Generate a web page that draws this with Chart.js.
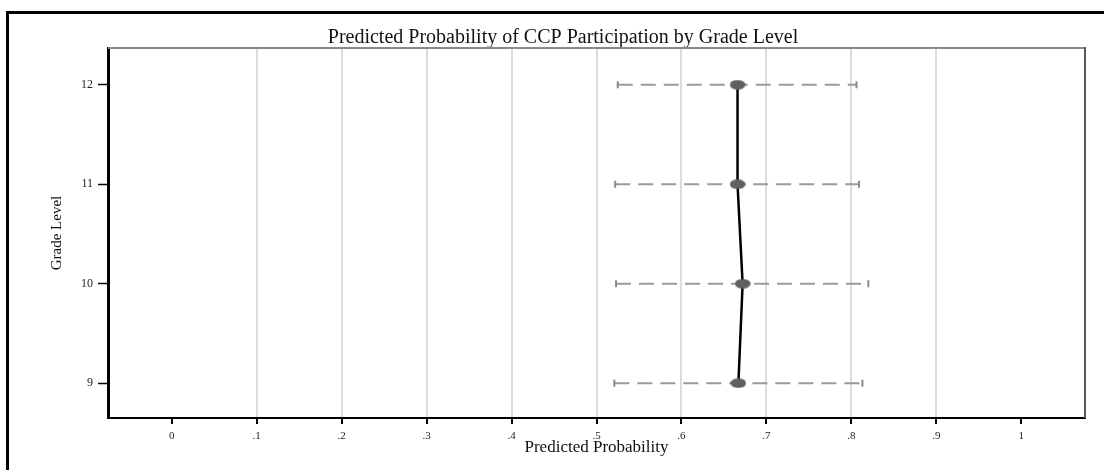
<!DOCTYPE html>
<html>
<head>
	<meta charset="UTF-8">
	<title>Predicted Probability of CCP Participation by Grade Level</title>
	<script src="https://cdn.jsdelivr.net/npm/chart.js"></script>
	<style>
		body {
			margin: 0;
			padding: 0;
			background: #fff;
		}

		.wrap {
			position: relative;
			width: 1104px;
			height: 470px;
			overflow: hidden;
		}

		/* outer frame of the figure */
		.frame {
			position: absolute;
			left: 6px;
			top: 11px;
			right: -10px;
			bottom: -10px;
			border-left: 3px solid #000;
			border-top: 3px solid #000;
		}

		canvas {
			position: absolute;
			left: 0;
			top: 0;
		}
	</style>
</head>
<body>
	<div class="wrap">
		<div class="frame"></div>
		<canvas id="chart" width="1104" height="470"></canvas>
	</div>

	<script>
		// data
		var grades = [9, 10, 11, 12];
		var predicted = [0.667, 0.672, 0.666, 0.666];
		var ciLower = [0.521, 0.523, 0.522, 0.525];
		var ciUpper = [0.813, 0.820, 0.809, 0.806];

		var xTickValues = [0, 0.1, 0.2, 0.3, 0.4, 0.5, 0.6, 0.7, 0.8, 0.9, 1];
		var xTickLabels = ['0', '.1', '.2', '.3', '.4', '.5', '.6', '.7', '.8', '.9', '1'];
		var yTickValues = [9, 10, 11, 12];
		var yTickLabels = ['9', '10', '11', '12'];

		// ellipse marker (the original is stretched sideways)
		function ellipseMarker() {
			var c = document.createElement('canvas');
			c.width = 16;
			c.height = 10;
			var g = c.getContext('2d');
			g.fillStyle = '#606060';
			g.beginPath();
			g.ellipse(8, 5, 7.8, 4.8, 0, 0, Math.PI * 2);
			g.fill();
			return c;
		}

		var datasets = [{
			label: 'Predicted',
			data: grades.map(function (g, i) { return { x: predicted[i], y: g }; }),
			showLine: true,
			borderColor: '#000',
			borderWidth: 2.5,
			pointStyle: ellipseMarker(),
			pointRadius: 8
		}];

		grades.forEach(function (g, i) {
			datasets.push({
				label: 'CI ' + g,
				data: [{ x: ciLower[i], y: g }, { x: ciUpper[i], y: g }],
				showLine: true,
				borderColor: '#9a9a9a',
				borderWidth: 2,
				borderDash: [15, 8],
				pointStyle: 'line',
				rotation: 90,
				pointRadius: 3.5,
				pointBorderColor: '#8a8a8a',
				pointBorderWidth: 2
			});
		});

		// top and right edges of the plot region
		var plotBox = {
			id: 'plotBox',
			afterDraw: function (chart) {
				var a = chart.chartArea;
				var ctx = chart.ctx;
				ctx.save();
				ctx.lineWidth = 2;
				ctx.strokeStyle = '#8a8a8a';
				ctx.beginPath();
				ctx.moveTo(a.left, a.top);
				ctx.lineTo(a.right, a.top);
				ctx.stroke();
				ctx.strokeStyle = '#555';
				ctx.beginPath();
				ctx.moveTo(a.right, a.top - 1);
				ctx.lineTo(a.right, a.bottom);
				ctx.stroke();
				ctx.restore();
			}
		};

		new Chart(document.getElementById('chart'), {
			type: 'scatter',
			data: { datasets: datasets },
			options: {
				responsive: false,
				animation: false,
				layout: {
					padding: { left: 41, right: 19, top: 28, bottom: 14 }
				},
				plugins: {
					legend: { display: false },
					tooltip: { enabled: false },
					title: {
						display: true,
						text: 'Predicted Probability of CCP Participation by Grade Level',
						color: '#111',
						font: { family: 'Liberation Serif', size: 20, weight: 'normal', lineHeight: 1 },
						padding: { top: 0, bottom: 0 }
					}
				},
				scales: {
					x: {
						type: 'linear',
						min: -0.075,
						max: 1.075,
						afterBuildTicks: function (s) {
							s.ticks = xTickValues.map(function (v) { return { value: v }; });
						},
						ticks: {
							callback: function (v, i) { return xTickLabels[i]; },
							color: '#222',
							font: { family: 'Liberation Serif', size: 11, lineHeight: 1 },
							padding: 7,
							maxRotation: 0
						},
						grid: {
							color: function (c) {
								var v = c.tick ? c.tick.value : null;
								return (v === 0 || v === 1) ? 'rgba(0,0,0,0)' : '#dcdcdc';
							},
							lineWidth: 2,
							tickColor: '#000',
							tickWidth: 2,
							tickLength: 6
						},
						border: { color: '#000', width: 2 },
						title: {
							display: true,
							text: 'Predicted Probability',
							color: '#111',
							font: { family: 'Liberation Serif', size: 17, lineHeight: 1 },
							padding: { top: -10, bottom: 0 }
						}
					},
					y: {
						type: 'linear',
						min: 8.65,
						max: 12.37,
						afterBuildTicks: function (s) {
							s.ticks = yTickValues.map(function (v) { return { value: v }; });
						},
						afterFit: function (s) {
							s.width = 67;
						},
						ticks: {
							callback: function (v, i) { return yTickLabels[i]; },
							color: '#222',
							font: { family: 'Liberation Serif', size: 12 },
							padding: 5
						},
						grid: {
							drawOnChartArea: false,
							tickColor: '#000',
							tickWidth: 1.5,
							tickLength: 10
						},
						border: { color: '#000', width: 3 },
						title: {
							display: true,
							text: 'Grade Level',
							color: '#111',
							font: { family: 'Liberation Serif', size: 15, lineHeight: 1.2 },
							padding: { top: 7, bottom: 0 }
						}
					}
				}
			},
			plugins: [plotBox]
		});
	</script>
</body>
</html>
